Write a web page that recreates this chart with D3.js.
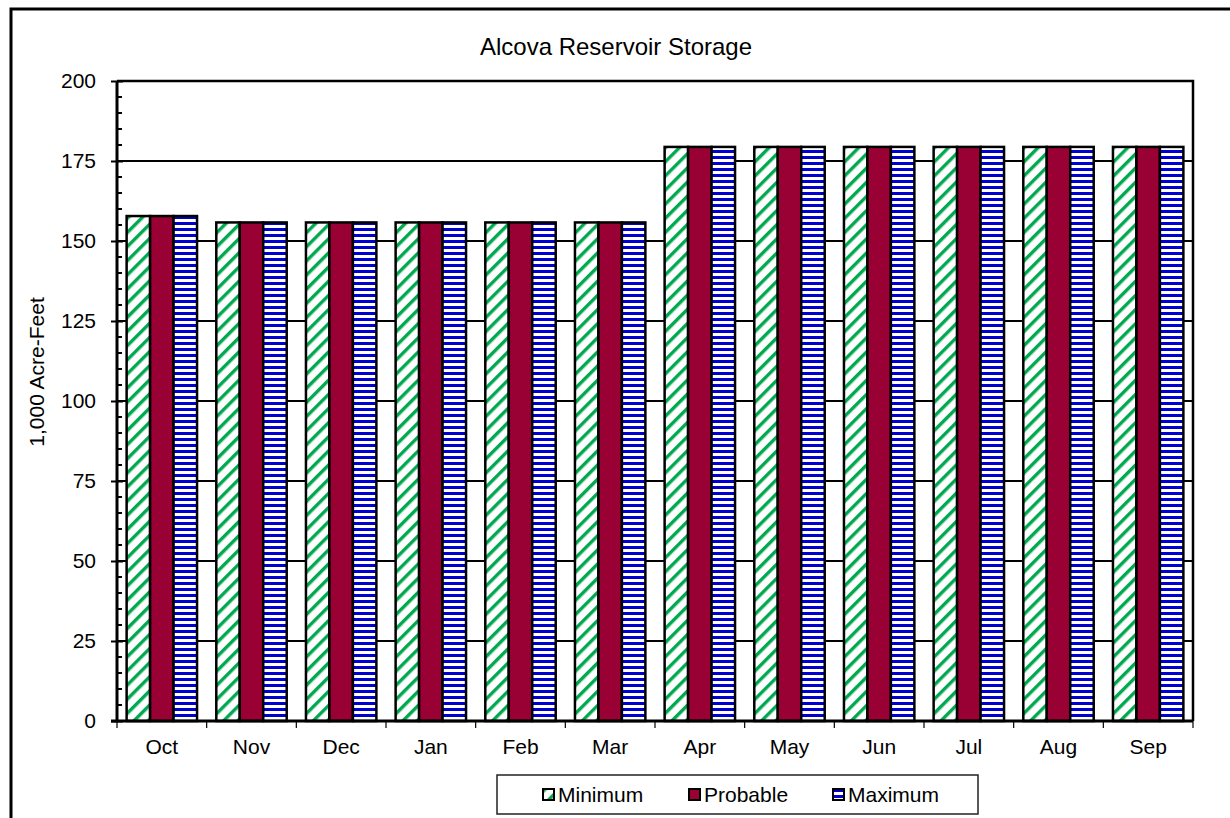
<!DOCTYPE html>
<html>
<head>
<meta charset="utf-8">
<script src="https://cdn.jsdelivr.net/npm/d3@7"></script>
<style>
  html, body { margin: 0; padding: 0; background: #fff; }
  svg { display: block; font-family: Arial, "Liberation Sans", sans-serif; }
</style>
</head>
<body>
<svg id="chart" width="1230" height="818"></svg>
<script>
// Monthly storage, thousands of acre-feet
const months = ["Oct", "Nov", "Dec", "Jan", "Feb", "Mar", "Apr", "May", "Jun", "Jul", "Aug", "Sep"];
const minimum  = [157.8, 155.8, 155.8, 155.8, 155.8, 155.8, 179.4, 179.4, 179.4, 179.4, 179.4, 179.4];
const probable = [157.8, 155.8, 155.8, 155.8, 155.8, 155.8, 179.4, 179.4, 179.4, 179.4, 179.4, 179.4];
const maximum  = [157.8, 155.8, 155.8, 155.8, 155.8, 155.8, 179.4, 179.4, 179.4, 179.4, 179.4, 179.4];
const seriesNames = ["Minimum", "Probable", "Maximum"];
const yTicks = [0, 25, 50, 75, 100, 125, 150, 175, 200];

const seriesValues = [minimum, probable, maximum];
const rows = months.map((m, i) => ({ month: m, values: seriesValues.map(s => s[i]) }));

const svg = d3.select("#chart");
const plot = { left: 117, right: 1193, top: 81, bottom: 721 };

// Fill patterns
const defs = svg.append("defs");
const diag = defs.append("pattern")
  .attr("id", "pat-min").attr("patternUnits", "userSpaceOnUse")
  .attr("width", 10).attr("height", 10)
  .attr("patternTransform", "rotate(45)");
diag.append("rect").attr("width", 10).attr("height", 10).attr("fill", "#fff");
diag.append("rect").attr("x", 0).attr("width", 3.4).attr("height", 10).attr("fill", "#00a850");

const horiz = defs.append("pattern")
  .attr("id", "pat-max").attr("patternUnits", "userSpaceOnUse")
  .attr("width", 6).attr("height", 6);
horiz.append("rect").attr("width", 6).attr("height", 6).attr("fill", "#fff");
horiz.append("rect").attr("y", 0).attr("width", 6).attr("height", 3).attr("fill", "#0000d0");

const fills = ["url(#pat-min)", "#990033", "url(#pat-max)"];

// Outer frame
svg.append("rect")
  .attr("x", 11).attr("y", 9).attr("width", 1240).attr("height", 830)
  .attr("fill", "none").attr("stroke", "#000").attr("stroke-width", 3);

// Scales
const x = d3.scaleBand().domain(months).range([plot.left, plot.right]).paddingInner(0).paddingOuter(0);
const inner = d3.scaleBand().domain(d3.range(3)).range([0, x.bandwidth()]).paddingInner(0).paddingOuter(0.41);
const y = d3.scaleLinear().domain([0, 200]).range([plot.bottom, plot.top]);

// Gridlines
svg.append("g")
  .selectAll("line").data(yTicks.filter(t => t > 0 && t < 200)).join("line")
  .attr("x1", plot.left).attr("x2", plot.right)
  .attr("y1", d => y(d)).attr("y2", d => y(d))
  .attr("stroke", "#000").attr("stroke-width", 2);

// Plot top and right edges
svg.append("path")
  .attr("d", `M${plot.left},${plot.top}H${plot.right}V${plot.bottom}`)
  .attr("fill", "none").attr("stroke", "#000").attr("stroke-width", 2.5);

// Bars
const groups = svg.append("g").selectAll("g").data(rows).join("g")
  .attr("transform", d => `translate(${x(d.month)},0)`);
groups.selectAll("rect").data(d => d.values.map((v, k) => ({ v, k }))).join("rect")
  .attr("x", d => inner(d.k))
  .attr("width", inner.bandwidth())
  .attr("y", d => y(d.v))
  .attr("height", d => y(0) - y(d.v))
  .attr("fill", d => fills[d.k])
  .attr("stroke", "#000").attr("stroke-width", 2.5);

// Y axis with minor ticks
const minor = d3.range(0, 201, 5).filter(v => v % 25 !== 0);
svg.append("g").selectAll("line").data(minor).join("line")
  .attr("x1", plot.left).attr("x2", plot.left + 5)
  .attr("y1", d => y(d)).attr("y2", d => y(d))
  .attr("stroke", "#000").attr("stroke-width", 2);

const yAxis = svg.append("g")
  .attr("transform", `translate(${plot.left},0)`)
  .call(d3.axisLeft(y).tickValues(yTicks).tickSize(6).tickPadding(15));
yAxis.select(".domain").remove();
yAxis.selectAll(".tick line").attr("x1", 6).attr("x2", -6).attr("stroke", "#000").attr("stroke-width", 2);
yAxis.selectAll(".tick text").attr("font-size", 21).attr("fill", "#000")
  .attr("font-family", "Arial, 'Liberation Sans', sans-serif");
svg.append("line")
  .attr("x1", plot.left).attr("x2", plot.left)
  .attr("y1", plot.top).attr("y2", plot.bottom)
  .attr("stroke", "#000").attr("stroke-width", 3);

// X axis
const xAxis = svg.append("g")
  .attr("transform", `translate(0,${plot.bottom})`)
  .call(d3.axisBottom(x).tickSize(0).tickPadding(18));
xAxis.select(".domain").remove();
xAxis.selectAll(".tick text").attr("font-size", 21).attr("fill", "#000")
  .attr("font-family", "Arial, 'Liberation Sans', sans-serif");
svg.append("g").selectAll("line")
  .data(months.map(m => x(m)).concat([plot.right])).join("line")
  .attr("x1", d => d).attr("x2", d => d)
  .attr("y1", plot.bottom).attr("y2", plot.bottom + 7)
  .attr("stroke", "#000").attr("stroke-width", 1.2);
svg.append("line")
  .attr("x1", plot.left - 6).attr("x2", plot.right)
  .attr("y1", plot.bottom).attr("y2", plot.bottom)
  .attr("stroke", "#000").attr("stroke-width", 3);

// Title
svg.append("text")
  .attr("x", 616).attr("y", 55)
  .attr("text-anchor", "middle").attr("font-size", 24).attr("fill", "#000")
  .text("Alcova Reservoir Storage");

// Y axis title
svg.append("text")
  .attr("transform", `translate(44,372) rotate(-90)`)
  .attr("text-anchor", "middle").attr("font-size", 21).attr("fill", "#000")
  .text("1,000 Acre-Feet");

// Legend
const legend = svg.append("g");
legend.append("rect")
  .attr("x", 497).attr("y", 775).attr("width", 481).attr("height", 39)
  .attr("fill", "#fff").attr("stroke", "#222").attr("stroke-width", 1.5);
const legendX = [543, 689, 833];
const items = legend.selectAll("g.item").data(seriesNames).join("g")
  .attr("class", "item")
  .attr("transform", (d, i) => `translate(${legendX[i]},789)`);
items.append("rect")
  .attr("width", 11).attr("height", 11)
  .attr("fill", (d, i) => fills[i])
  .attr("stroke", "#000").attr("stroke-width", 2);
items.append("text")
  .attr("x", 15).attr("y", 13)
  .attr("font-size", 21).attr("fill", "#000")
  .text(d => d);
</script>
</body>
</html>
